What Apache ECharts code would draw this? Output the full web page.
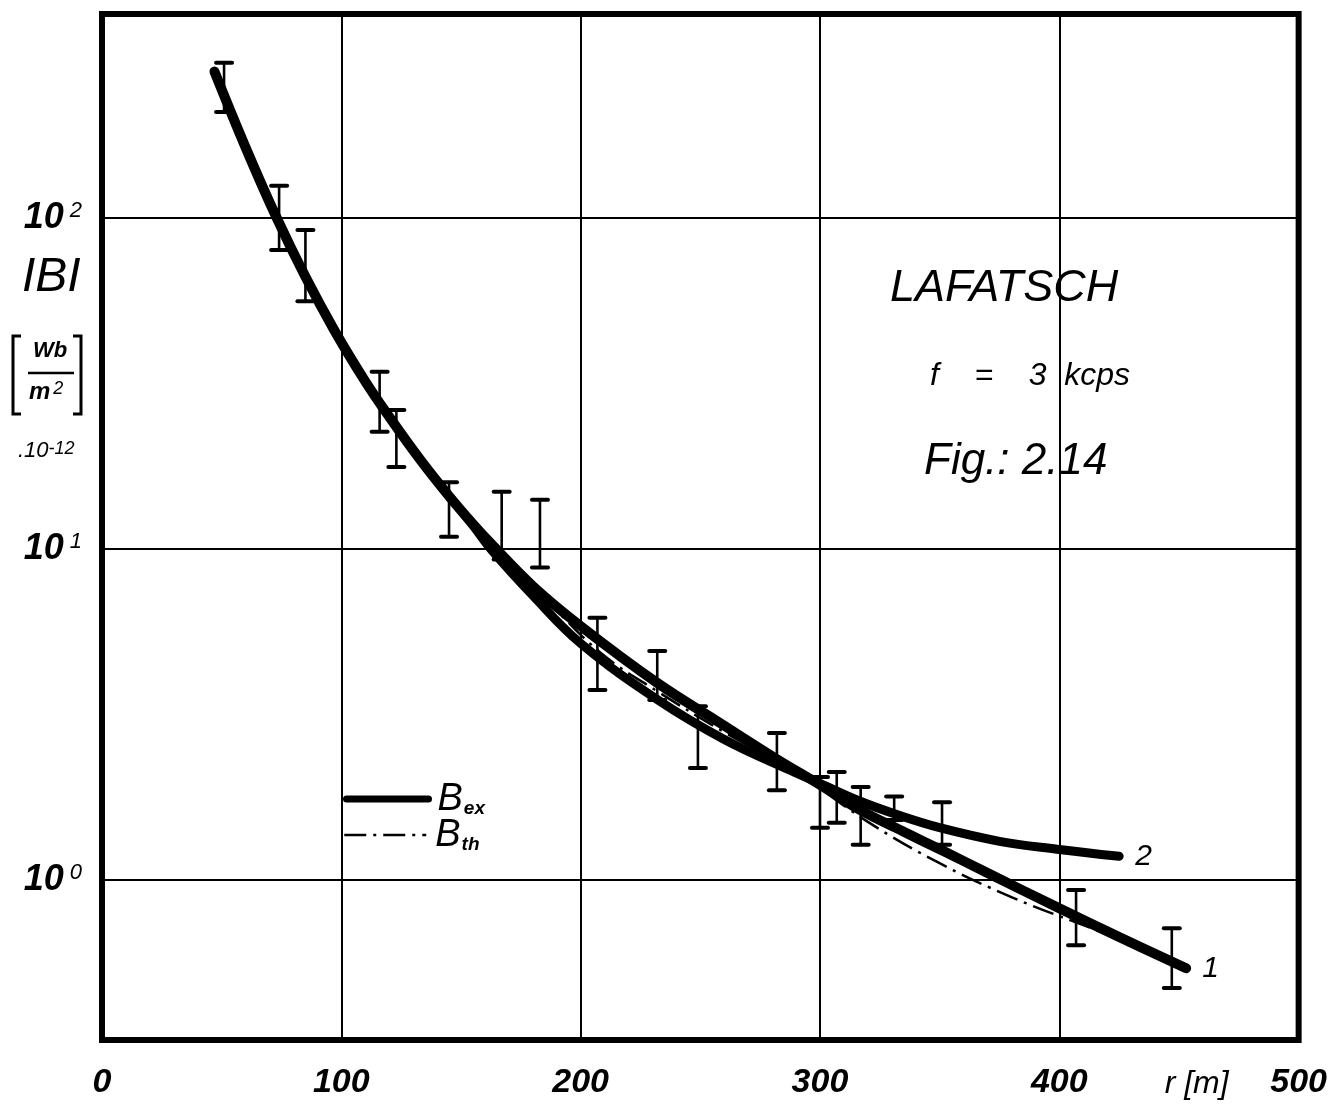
<!DOCTYPE html>
<html><head><meta charset="utf-8">
<script src="https://cdn.jsdelivr.net/npm/echarts@6/dist/echarts.min.js"></script>
<style>html,body{margin:0;padding:0;background:#fff}#c{width:1330px;height:1106px}</style>
</head><body><div id="c"></div>
<script>
// ---- data (r in metres, |B| in Wb/m^2 * 1e-12) ----
const xTickValues = [0, 100, 200, 300, 400, 500];
const yTickPowers = [0, 1, 2];

// experimental curve 1
const curve1R = [47, 60, 73, 85, 97, 110, 120, 133, 145, 155, 163, 180, 200, 232, 258, 282, 300, 316, 335, 352, 369, 400, 425, 453];
const curve1B = [276.7, 163.3, 100, 66.4, 45.9, 32.1, 25.1, 18.6, 14.45, 11.9, 10.3, 7.73, 5.85, 3.94, 2.99, 2.32, 1.94, 1.64, 1.40, 1.22, 1.06, 0.822, 0.673, 0.542];

// experimental curve 2
const curve2R = [145, 155, 163, 180, 200, 232, 260, 288, 300, 316, 333, 350, 375, 399, 425];
const curve2B = [14.45, 11.78, 9.89, 7.24, 5.19, 3.51, 2.66, 2.14, 1.96, 1.74, 1.57, 1.44, 1.31, 1.24, 1.18];

// theoretical curve
const thR = [150, 170, 190, 210, 232, 260, 290, 320, 350, 380, 410, 430];
const thB = [13.1, 9.0, 6.5, 4.75, 3.72, 2.80, 2.12, 1.50, 1.125, 0.889, 0.731, 0.646];

// measured ranges (error bars)
const errR  = [51, 74, 85, 116, 123, 145, 167, 183, 207, 232, 249, 282, 300, 307, 317, 331, 351, 407, 447];
const errLo = [209, 80, 56, 22.6, 17.7, 10.9, 9.3, 8.8, 3.75, 3.5, 2.18, 1.87, 1.44, 1.49, 1.28, 1.52, 1.28, 0.636, 0.472];
const errHi = [294, 125, 92, 34.3, 26.3, 15.9, 14.9, 14.1, 6.2, 4.92, 3.35, 2.78, 2.05, 2.12, 1.91, 1.79, 1.72, 0.933, 0.716];

const FONT = '"Liberation Sans", "DejaVu Sans", sans-serif';
const zip = (a, b) => a.map((v, i) => [v, b[i]]);

const chart = echarts.init(document.getElementById('c'), null, {renderer: 'canvas'});

const subRich = {
  b: {fontSize: 38, fontStyle: 'italic', fontFamily: FONT, color: '#000'},
  s: {fontSize: 19, fontStyle: 'italic', fontWeight: 'bold', fontFamily: FONT, color: '#000', verticalAlign: 'bottom', padding: [0, 0, 0, 1]}
};

const option = {
  backgroundColor: '#fff',
  animation: false,
  grid: {left: 102, right: 28, top: 14, bottom: 66, show: true, borderColor: '#000', borderWidth: 6, backgroundColor: 'transparent'},
  xAxis: {
    type: 'value', min: 0, max: 500, interval: 100,
    axisLine: {show: false}, axisTick: {show: false},
    splitLine: {show: true, lineStyle: {color: '#000', width: 2}},
    axisLabel: {
      color: '#000', fontSize: 34, fontStyle: 'italic', fontWeight: 'bold', fontFamily: FONT, margin: 26,
      formatter: v => xTickValues.indexOf(v) >= 0 ? String(v) : ''
    },
    name: 'r [m]', nameLocation: 'end', nameGap: -134,
    nameTextStyle: {color: '#000', fontSize: 32, fontStyle: 'italic', fontFamily: FONT, align: 'left', verticalAlign: 'top', padding: [28, 0, 0, 0]}
  },
  yAxis: {
    type: 'log', logBase: 10, min: 0.329, max: 413,
    axisLine: {show: false}, axisTick: {show: false},
    splitLine: {show: true, lineStyle: {color: '#000', width: 2}},
    axisLabel: {
      showMinLabel: false, showMaxLabel: false, margin: 20,
      formatter: v => {
        const p = Math.log10(v);
        const r = Math.round(p);
        if (Math.abs(p - r) > 1e-6 || yTickPowers.indexOf(r) < 0) return '';
        return '{b|10}{s|' + r + '}';
      },
      rich: {
        b: {fontSize: 36, fontStyle: 'italic', fontWeight: 'bold', fontFamily: FONT, color: '#000'},
        s: {fontSize: 22, fontStyle: 'italic', fontFamily: FONT, color: '#000', verticalAlign: 'top', padding: [0, 0, 0, 6]}
      }
    }
  },
  legend: [
    {
      data: ['Bex'], orient: 'vertical', left: 338, top: 775, itemWidth: 82, itemHeight: 14,
      formatter: () => '{b|B}{s|ex}', textStyle: {rich: subRich, padding: [0, 0, 0, 4]},
      itemStyle: {opacity: 0}, lineStyle: {width: 7, color: '#000'},
      selectedMode: false
    },
    {
      data: ['Bth'], orient: 'vertical', left: 338, top: 811, itemWidth: 82, itemHeight: 14,
      formatter: () => '{b|B}{s|th}', textStyle: {rich: subRich, padding: [0, 0, 0, 4]},
      itemStyle: {opacity: 0}, lineStyle: {width: 2.5, color: '#000'},
      selectedMode: false
    }
  ],
  series: [
    {
      type: 'custom', name: 'range', z: 1,
      data: errR.map((r, i) => [r, errLo[i], errHi[i]]),
      encode: {x: 0, y: [1, 2]},
      renderItem: (params, api) => {
        const x = api.value(0), lo = api.value(1), hi = api.value(2);
        const p1 = api.coord([x, hi]);
        const p2 = api.coord([x, lo]);
        const w = 8;
        const st = {stroke: '#000', lineWidth: 2.6};
        const cap = {stroke: '#000', lineWidth: 4, lineCap: 'round'};
        return {type: 'group', children: [
          {type: 'line', shape: {x1: p1[0], y1: p1[1], x2: p2[0], y2: p2[1]}, style: st},
          {type: 'line', shape: {x1: p1[0] - w, y1: p1[1], x2: p1[0] + w, y2: p1[1]}, style: cap},
          {type: 'line', shape: {x1: p2[0] - w, y1: p2[1], x2: p2[0] + w, y2: p2[1]}, style: cap}
        ]};
      }
    },
    {
      type: 'line', name: 'Bex', z: 3, smooth: 0.4, symbol: 'none',
      data: zip(curve1R, curve1B),
      lineStyle: {color: '#000', width: 10, cap: 'round'},
      itemStyle: {color: '#000'},
      endLabel: {show: true, formatter: '1', distance: 16, color: '#000', fontSize: 30, fontStyle: 'italic', fontFamily: FONT}
    },
    {
      type: 'line', name: 'Bex', z: 3, smooth: 0.4, symbol: 'none',
      data: zip(curve2R, curve2B),
      lineStyle: {color: '#000', width: 9, cap: 'round'},
      itemStyle: {color: '#000'},
      endLabel: {show: true, formatter: '2', distance: 16, color: '#000', fontSize: 30, fontStyle: 'italic', fontFamily: FONT}
    },
    {
      type: 'line', name: 'Bth', z: 4, smooth: 0.4, symbol: 'none',
      data: zip(thR, thB),
      lineStyle: {color: '#000', width: 2.5, type: [22, 7, 3, 7]},
      itemStyle: {color: '#000'}
    }
  ],
  graphic: [
    {type: 'text', left: 890, top: 266, style: {text: 'LAFATSCH', font: 'italic 45px ' + FONT, fill: '#000'}},
    {type: 'text', left: 930, top: 360, style: {text: 'f    =    3  kcps', font: 'italic 32px ' + FONT, fill: '#000'}},
    {type: 'text', left: 924, top: 440, style: {text: 'Fig.: 2.14', font: 'italic 44px ' + FONT, fill: '#000'}},
    {type: 'text', left: 22, top: 254, style: {text: 'IBI', font: 'italic 48px ' + FONT, fill: '#000'}},
    {type: 'polyline', shape: {points: [[21, 336], [13, 336], [13, 414], [21, 414]]}, style: {stroke: '#000', lineWidth: 3, fill: null}},
    {type: 'polyline', shape: {points: [[73, 336], [81, 336], [81, 414], [73, 414]]}, style: {stroke: '#000', lineWidth: 3, fill: null}},
    {type: 'text', left: 33, top: 340, style: {text: 'Wb', font: 'italic bold 22px ' + FONT, fill: '#000'}},
    {type: 'line', shape: {x1: 28, y1: 373, x2: 74, y2: 373}, style: {stroke: '#000', lineWidth: 2.5}},
    {type: 'text', left: 29, top: 380, style: {text: '{a|m}{b|2}', rich: {a: {font: 'italic bold 24px ' + FONT, fill: '#000'}, b: {font: 'italic 18px ' + FONT, fill: '#000', verticalAlign: 'top', padding: [0, 0, 0, 3]}}}},
    {type: 'text', left: 18, top: 440, style: {text: '{a|.10}{b|-12}', rich: {a: {font: 'italic 22px ' + FONT, fill: '#000'}, b: {font: 'italic 18px ' + FONT, fill: '#000', verticalAlign: 'top'}}}}
  ]
};
chart.setOption(option);
</script>
</body></html>
